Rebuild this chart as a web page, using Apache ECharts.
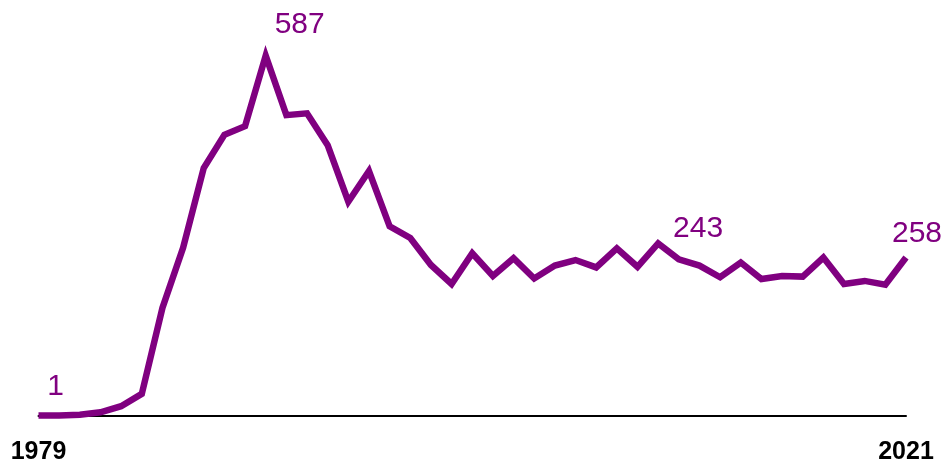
<!DOCTYPE html>
<html>
<head>
<meta charset="utf-8">
<script src="https://cdn.jsdelivr.net/npm/echarts@6/dist/echarts.min.js"></script>
<style>
html,body{margin:0;padding:0;background:#fff;}
#chart{width:947px;height:465px;}
</style>
</head>
<body>
<div id="chart"></div>
<script>
var years = [];
for (var y = 1979; y <= 2021; y++) years.push(String(y));

var values = [1, 1, 2, 6, 16, 36, 176, 274, 404, 458, 472, 587, 490, 493, 441, 349, 399, 309, 290, 246,
  215, 265, 228, 257, 224, 245, 254, 242, 273, 243, 281, 255, 245, 226, 250, 223, 228, 227, 258, 215,
  220, 214, 258];

var tickLabels = ['1979', '2021'];

var labelIdx = [0, 11, 30, 42];
var labelText = ['1', '587', '243', '258'];
var labelOffsets = [[17, -29], [34, -31], [40, -15], [11, -24]];

var labelData = labelIdx.map(function (idx, k) {
  return {
    value: [years[idx], values[idx]],
    label: { show: true, formatter: labelText[k], offset: labelOffsets[k] }
  };
});

var chart = echarts.init(document.getElementById('chart'), null, { renderer: 'canvas' });
chart.setOption({
  animation: false,
  backgroundColor: '#ffffff',
  grid: { left: 38.5, right: 41, top: 47.6, bottom: 49, containLabel: false },
  xAxis: {
    type: 'category',
    data: years,
    boundaryGap: false,
    axisLine: { show: true, lineStyle: { color: '#000', width: 2 } },
    axisTick: { show: false },
    axisLabel: {
      interval: function (i, v) { return tickLabels.indexOf(v) >= 0; },
      color: '#000',
      fontFamily: 'Liberation Sans',
      fontWeight: 'bold',
      fontSize: 25,
      margin: 24
    },
    splitLine: { show: false }
  },
  yAxis: {
    type: 'value',
    min: 0,
    max: 600,
    show: false
  },
  series: [
    {
      type: 'line',
      data: values,
      symbol: 'none',
      lineStyle: { color: '#800080', width: 6.5, join: 'miter', opacity: 1 },
      z: 3
    },
    {
      type: 'scatter',
      data: labelData,
      symbolSize: 0,
      silent: true,
      itemStyle: { color: '#800080', opacity: 1 },
      label: {
        show: true,
        position: 'inside',
        color: '#800080',
        opacity: 1,
        fontFamily: 'Liberation Sans',
        fontSize: 30,
        align: 'center',
        verticalAlign: 'middle'
      },
      z: 4
    }
  ]
});
</script>
</body>
</html>
